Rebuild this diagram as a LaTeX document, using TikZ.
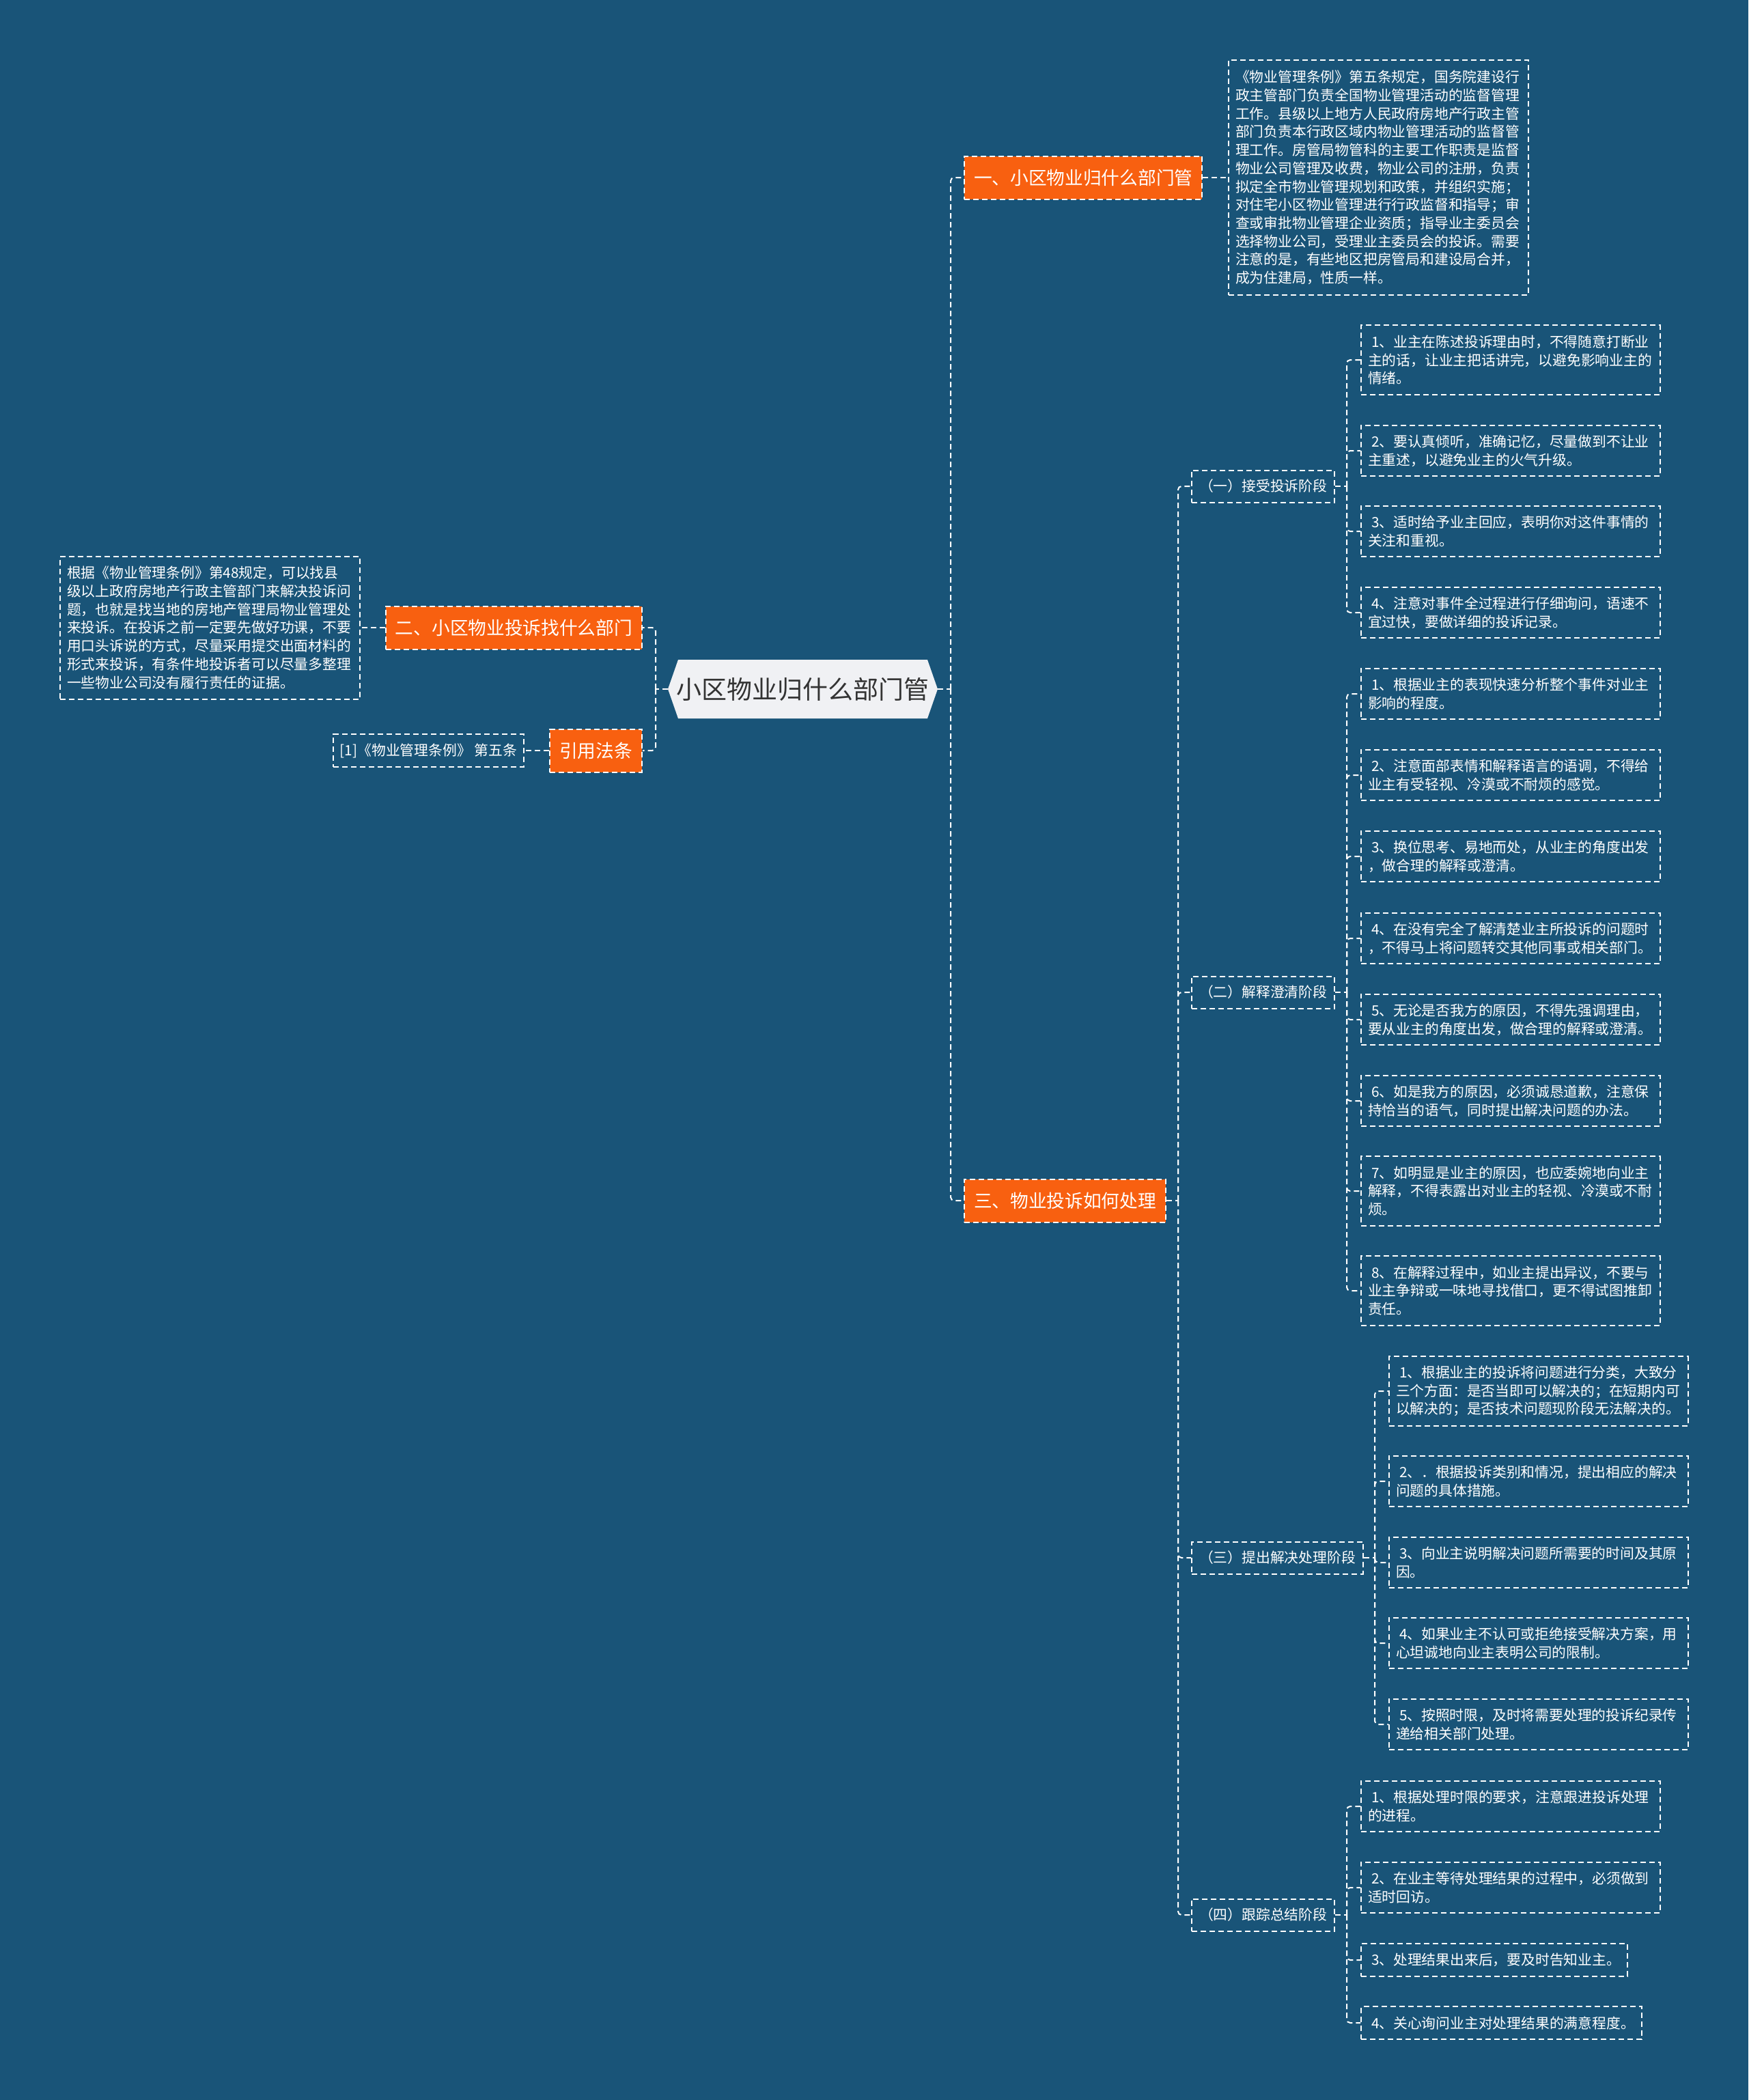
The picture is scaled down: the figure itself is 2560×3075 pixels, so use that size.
\documentclass[tikz,border=0pt]{standalone}
\usepackage{fontspec}
\setmainfont{Noto Sans CJK SC}
\definecolor{bgc}{RGB}{25,84,120}
\definecolor{orn}{RGB}{248,96,16}
\definecolor{hexc}{RGB}{240,241,244}
\definecolor{txtd}{RGB}{51,51,51}
\tikzset{
  dsh/.style={dash pattern=on 8pt off 5pt},
  conn/.style={draw=white, line width=2pt, dsh, rounded corners=5pt},
  boxbase/.style={draw=white, line width=2pt, dsh, text=white, font=\fontsize{20.8}{26.7}\selectfont, inner ysep=4pt},
  leaf/.style={boxbase, align=left, inner xsep=10pt, text width=418pt},
  leafn/.style={boxbase, align=left, inner xsep=10pt, minimum height=47.7pt},
  onel/.style={minimum height=47.7pt},
  twol/.style={minimum height=74.4pt},
  threel/.style={minimum height=101.1pt},
  stagebox/.style={boxbase, inner xsep=11pt, minimum height=47pt},
  branch/.style={fill=orn, draw=white, line width=2pt, dsh, text=white, font=\fontsize{26.7}{32}\selectfont, inner xsep=14pt, inner ysep=4pt, minimum height=63pt},
  rootn/.style={text=txtd, font=\fontsize{37}{43}\selectfont, inner sep=0pt, minimum width=395pt, minimum height=86pt}
}
\begin{document}
\begin{tikzpicture}[x=1pt,y=-1pt]
\useasboundingbox (0,0) rectangle (2560,3075);
\fill[bgc] (0,0) rectangle (2560,3075);

% root
\fill[hexc] (978,1009) -- (993,966) -- (1358,966) -- (1373,1009) -- (1358,1052) -- (993,1052) -- cycle;
\node[rootn] (root) at (1175.5,1009) {小区物业归什么部门管};

% branches
\node[branch, anchor=west] (b1) at (1411,260) {一、小区物业归什么部门管};
\node[branch, anchor=east] (b2) at (941,919) {二、小区物业投诉找什么部门};
\node[branch, anchor=east] (b4) at (941,1099) {引用法条};
\node[branch, anchor=west] (b3) at (1411,1758) {三、物业投诉如何处理};

% descriptions
\node[boxbase, align=left, inner xsep=10pt, text width=419pt, minimum height=343pt, anchor=west] (b1d) at (1798,260) {《物业管理条例》第五条规定，国务院建设行\\政主管部门负责全国物业管理活动的监督管理\\工作。县级以上地方人民政府房地产行政主管\\部门负责本行政区域内物业管理活动的监督管\\理工作。房管局物管科的主要工作职责是监督\\物业公司管理及收费，物业公司的注册，负责\\拟定全市物业管理规划和政策，并组织实施；\\对住宅小区物业管理进行行政监督和指导；审\\查或审批物业管理企业资质；指导业主委员会\\选择物业公司，受理业主委员会的投诉。需要\\注意的是，有些地区把房管局和建设局合并，\\成为住建局，性质一样。};
\node[boxbase, align=left, inner xsep=10pt, text width=419pt, minimum height=209pt, anchor=east] (b2d) at (528,919) {根据《物业管理条例》第48规定，可以找县\\级以上政府房地产行政主管部门来解决投诉问\\题，也就是找当地的房地产管理局物业管理处\\来投诉。在投诉之前一定要先做好功课，不要\\用口头诉说的方式，尽量采用提交出面材料的\\形式来投诉，有条件地投诉者可以尽量多整理\\一些物业公司没有履行责任的证据。};
\node[leafn, anchor=east] (b4r) at (768,1099) {[1]《物业管理条例》 第五条};

% stages
\node[stagebox, anchor=west] (s1) at (1744,712) {（一）接受投诉阶段};
\node[stagebox, anchor=west] (s2) at (1744,1453) {（二）解释澄清阶段};
\node[stagebox, anchor=west] (s3) at (1744,2281) {（三）提出解决处理阶段};
\node[stagebox, anchor=west] (s4) at (1744,2804) {（四）跟踪总结阶段};

% stage 1 leaves
\node[leaf, threel, anchor=west] (a1) at (1992,527) {\hspace*{5pt}1、业主在陈述投诉理由时，不得随意打断业\\主的话，让业主把话讲完，以避免影响业主的\\情绪。};
\node[leaf, twol, anchor=west] (a2) at (1992,660) {\hspace*{5pt}2、要认真倾听，准确记忆，尽量做到不让业\\主重述，以避免业主的火气升级。};
\node[leaf, twol, anchor=west] (a3) at (1992,778) {\hspace*{5pt}3、适时给予业主回应，表明你对这件事情的\\关注和重视。};
\node[leaf, twol, anchor=west] (a4) at (1992,897) {\hspace*{5pt}4、注意对事件全过程进行仔细询问，语速不\\宜过快，要做详细的投诉记录。};

% stage 2 leaves
\node[leaf, twol, anchor=west] (c1) at (1992,1016) {\hspace*{5pt}1、根据业主的表现快速分析整个事件对业主\\影响的程度。};
\node[leaf, twol, anchor=west] (c2) at (1992,1135) {\hspace*{5pt}2、注意面部表情和解释语言的语调，不得给\\业主有受轻视、冷漠或不耐烦的感觉。};
\node[leaf, twol, anchor=west] (c3) at (1992,1254) {\hspace*{5pt}3、换位思考、易地而处，从业主的角度出发\\，做合理的解释或澄清。};
\node[leaf, twol, anchor=west] (c4) at (1992,1374) {\hspace*{5pt}4、在没有完全了解清楚业主所投诉的问题时\\，不得马上将问题转交其他同事或相关部门。};
\node[leaf, twol, anchor=west] (c5) at (1992,1493) {\hspace*{5pt}5、无论是否我方的原因，不得先强调理由，\\要从业主的角度出发，做合理的解释或澄清。};
\node[leaf, twol, anchor=west] (c6) at (1992,1612) {\hspace*{5pt}6、如是我方的原因，必须诚恳道歉，注意保\\持恰当的语气，同时提出解决问题的办法。};
\node[leaf, threel, anchor=west] (c7) at (1992,1744) {\hspace*{5pt}7、如明显是业主的原因，也应委婉地向业主\\解释，不得表露出对业主的轻视、冷漠或不耐\\烦。};
\node[leaf, threel, anchor=west] (c8) at (1992,1890) {\hspace*{5pt}8、在解释过程中，如业主提出异议，不要与\\业主争辩或一味地寻找借口，更不得试图推卸\\责任。};

% stage 3 leaves
\node[leaf, threel, anchor=west] (d1) at (2033,2037) {\hspace*{5pt}1、根据业主的投诉将问题进行分类，大致分\\三个方面：是否当即可以解决的；在短期内可\\以解决的；是否技术问题现阶段无法解决的。};
\node[leaf, twol, anchor=west] (d2) at (2033,2169) {\hspace*{5pt}2、．根据投诉类别和情况，提出相应的解决\\问题的具体措施。};
\node[leaf, twol, anchor=west] (d3) at (2033,2288) {\hspace*{5pt}3、向业主说明解决问题所需要的时间及其原\\因。};
\node[leaf, twol, anchor=west] (d4) at (2033,2406) {\hspace*{5pt}4、如果业主不认可或拒绝接受解决方案，用\\心坦诚地向业主表明公司的限制。};
\node[leaf, twol, anchor=west] (d5) at (2033,2525) {\hspace*{5pt}5、按照时限，及时将需要处理的投诉纪录传\\递给相关部门处理。};

% stage 4 leaves
\node[leaf, twol, anchor=west] (e1) at (1992,2645) {\hspace*{5pt}1、根据处理时限的要求，注意跟进投诉处理\\的进程。};
\node[leaf, twol, anchor=west] (e2) at (1992,2764) {\hspace*{5pt}2、在业主等待处理结果的过程中，必须做到\\适时回访。};
\node[leafn, anchor=west] (e3) at (1992,2870) {\hspace*{5pt}3、处理结果出来后，要及时告知业主。};
\node[leafn, anchor=west] (e4) at (1992,2962) {\hspace*{5pt}4、关心询问业主对处理结果的满意程度。};

% junctions
\coordinate (jr) at (1392,1009);
\coordinate (jl) at (960,1009);
\coordinate (js) at (1725,1758);
\coordinate (j1) at (1972,712);
\coordinate (j2) at (1972,1453);
\coordinate (j3) at (2013,2281);
\coordinate (j4) at (1972,2804);

% connectors
\draw[conn] (root.east) -- (jr);
\draw[conn] (jr) |- (b1.west);
\draw[conn] (jr) |- (b3.west);
\draw[conn] (root.west) -- (jl);
\draw[conn] (jl) |- (b2.east);
\draw[conn] (jl) |- (b4.east);
\draw[conn] (b1.east) -- (b1d.west);
\draw[conn] (b2.west) -- (b2d.east);
\draw[conn] (b4.west) -- (b4r.east);
\draw[conn] (b3.east) -- (js);
\foreach \s in {s1,s2,s3,s4} {\draw[conn] (js) |- (\s.west);}
\draw[conn] (s1.east) -- (j1);
\draw[conn] (s2.east) -- (j2);
\draw[conn] (s3.east) -- (j3);
\draw[conn] (s4.east) -- (j4);
\foreach \l in {a1,a2,a3,a4} {\draw[conn] (j1) |- (\l.west);}
\foreach \l in {c1,c2,c3,c4,c5,c6,c7,c8} {\draw[conn] (j2) |- (\l.west);}
\foreach \l in {d1,d2,d3,d4,d5} {\draw[conn] (j3) |- (\l.west);}
\foreach \l in {e1,e2,e3,e4} {\draw[conn] (j4) |- (\l.west);}
\end{tikzpicture}
\end{document}
